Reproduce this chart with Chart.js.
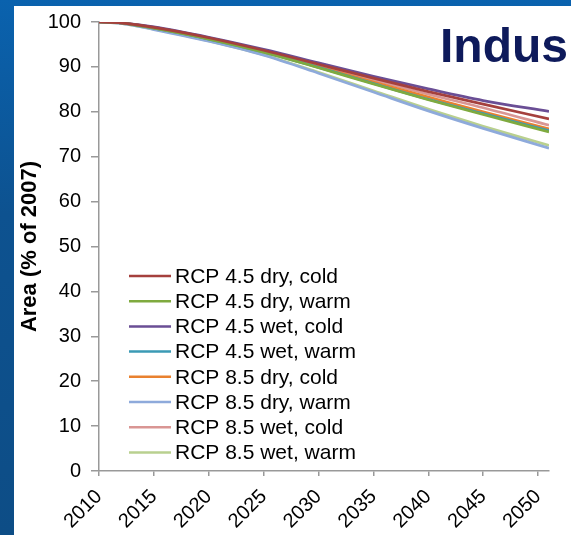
<!DOCTYPE html>
<html>
<head>
<meta charset="utf-8">
<script src="https://cdn.jsdelivr.net/npm/chart.js@4/dist/chart.umd.min.js"></script>
<style>
	html, body { margin: 0; padding: 0; }
	body {
		width: 571px; height: 535px; overflow: hidden; position: relative;
		background: linear-gradient(to bottom, #0a62ae 0%, #0d5290 40%, #0d4d86 100%);
	}
	#panel { position: absolute; left: 14px; top: 6px; width: 557px; height: 529px; background: #fff; }
	#wrap { position: absolute; left: 0; top: 0; width: 571px; height: 535px; }
</style>
</head>
<body>
<div id="panel"></div>
<div id="wrap"><canvas id="areaChart" width="571" height="535"></canvas></div>
<script>
// years (x axis runs 2010 to 2051)
var years = [2010, 2012, 2015, 2020, 2025, 2030, 2035, 2040, 2045, 2051];
var xTicks = [2010, 2015, 2020, 2025, 2030, 2035, 2040, 2045, 2050];

var seriesNames = [
	'RCP 4.5 dry, cold', 'RCP 4.5 dry, warm', 'RCP 4.5 wet, cold', 'RCP 4.5 wet, warm',
	'RCP 8.5 dry, cold', 'RCP 8.5 dry, warm', 'RCP 8.5 wet, cold', 'RCP 8.5 wet, warm'
];

// Area (% of 2007)
var rcp45DryCold = [100, 99.8, 98.8, 96.5, 93.7, 90.6, 87.5, 84.5, 81.7, 78.4];
var rcp45DryWarm = [100, 99.8, 98.6, 96.2, 93.3, 89.8, 86.2, 82.7, 79.4, 75.5];
var rcp45WetCold = [100, 99.8, 98.9, 96.6, 93.9, 90.9, 87.9, 85.1, 82.5, 80.1];
var rcp45WetWarm = [100, 99.8, 98.6, 96.2, 93.3, 89.9, 86.3, 82.8, 79.6, 75.8];
var rcp85DryCold = [100, 99.8, 98.7, 96.3, 93.4, 90.1, 86.6, 83.3, 80.0, 76.2];
var rcp85DryWarm = [100, 99.7, 98.3, 95.7, 92.6, 88.6, 84.4, 80.2, 76.3, 71.9];
var rcp85WetCold = [100, 99.8, 98.8, 96.4, 93.6, 90.4, 87.1, 83.9, 80.9, 77.0];
var rcp85WetWarm = [100, 99.7, 98.4, 95.8, 92.7, 88.8, 84.7, 80.6, 76.8, 72.5];

var seriesValues = [rcp45DryCold, rcp45DryWarm, rcp45WetCold, rcp45WetWarm,
	rcp85DryCold, rcp85DryWarm, rcp85WetCold, rcp85WetWarm];
var seriesColors = ['#a5403d', '#7faa3f', '#6a4e95', '#3b9ab5',
	'#e9812f', '#8eaadb', '#d99694', '#b9d08f'];

var FONT = '"Liberation Sans", Arial, sans-serif';

var datasets = seriesNames.map(function(name, i) {
	return {
		label: name,
		data: years.map(function(y, j) { return { x: y, y: seriesValues[i][j] }; }),
		borderColor: seriesColors[i],
		backgroundColor: seriesColors[i],
		borderWidth: 2.7,
		pointRadius: 0,
		cubicInterpolationMode: 'monotone',
		fill: false
	};
});

// legend drawn inside the plot, plus the "Indus" heading
var insideLegend = {
	id: 'insideLegend',
	afterDraw: function(chart) {
		var ctx = chart.ctx;
		var area = chart.chartArea;
		ctx.save();
		ctx.font = '21px ' + FONT;
		ctx.textBaseline = 'middle';
		ctx.textAlign = 'left';
		chart.data.datasets.forEach(function(ds, i) {
			var y = area.top + 254 + i * 25.2;
			ctx.strokeStyle = ds.borderColor;
			ctx.lineWidth = 2.5;
			ctx.beginPath();
			ctx.moveTo(area.left + 30, y);
			ctx.lineTo(area.left + 72, y);
			ctx.stroke();
			ctx.fillStyle = '#000';
			ctx.fillText(ds.label, area.left + 76, y + 1);
		});
		ctx.font = 'bold 48px ' + FONT;
		ctx.fillStyle = '#0e1a5b';
		ctx.textBaseline = 'alphabetic';
		ctx.fillText('Indus', 440, 62);
		ctx.restore();
	}
};

var ctx = document.getElementById('areaChart').getContext('2d');
var area_chart = new Chart(ctx, {
	type: 'line',
	data: { datasets: datasets },
	plugins: [insideLegend],
	options: {
		responsive: false,
		animation: false,
		layout: { padding: { top: 18, right: 22, left: 0, bottom: 0 } },
		scales: {
			x: {
				type: 'linear',
				min: 2010,
				max: 2051,
				afterBuildTicks: function(scale) {
					scale.ticks = xTicks.map(function(v) { return { value: v }; });
				},
				afterFit: function(scale) { scale.height = 64; },
				border: { color: '#999', width: 1.5 },
				grid: { drawOnChartArea: false, color: '#999', tickLength: 5, lineWidth: 1.5 },
				ticks: {
					minRotation: 45,
					maxRotation: 45,
					padding: 9,
					color: '#000',
					font: { family: FONT, size: 20 },
					callback: function(v) { return String(v); }
				}
			},
			y: {
				min: 0,
				max: 100,
				afterFit: function(scale) { scale.width = 99; },
				border: { color: '#999', width: 1.5 },
				grid: { drawOnChartArea: false, color: '#999', tickLength: 8, lineWidth: 1.5 },
				ticks: {
					stepSize: 10,
					padding: 10,
					color: '#000',
					font: { family: FONT, size: 20 }
				},
				title: {
					display: true,
					text: 'Area (% of 2007)',
					color: '#000',
					font: { family: FONT, size: 22, weight: 'bold' },
					padding: { top: 17, bottom: 0 }
				}
			}
		},
		plugins: {
			legend: { display: false },
			tooltip: { enabled: false }
		}
	}
});
</script>
</body>
</html>
